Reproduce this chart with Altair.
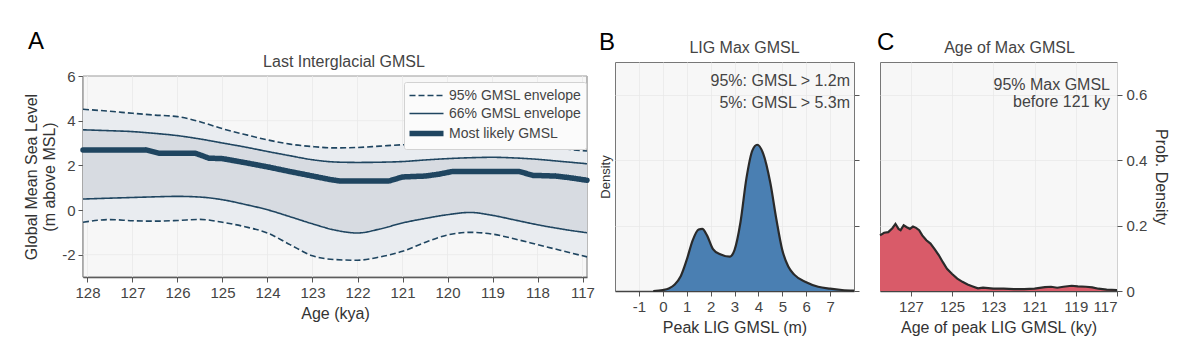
import altair as alt
import pandas as pd

FONT = "Liberation Sans"

# ---------------- Panel A data ----------------
age_env = [128.1, 127.5, 127.0, 126.5, 126.0, 125.5, 125.0, 124.5, 124.0, 123.5, 123.0, 122.5,
           122.0, 121.5, 121.0, 120.5, 120.0, 119.5, 119.0, 118.5, 118.0, 117.5, 116.9]
upper95 = [4.51, 4.42, 4.33, 4.25, 4.18, 3.95, 3.64, 3.38, 3.14, 2.95, 2.84, 2.78,
           2.80, 2.86, 2.92, 2.94, 2.96, 2.99, 2.98, 2.93, 2.84, 2.75, 2.64]
upper66 = [3.59, 3.55, 3.51, 3.43, 3.33, 3.18, 3.00, 2.82, 2.62, 2.43, 2.25, 2.15,
           2.13, 2.14, 2.17, 2.24, 2.30, 2.34, 2.36, 2.33, 2.27, 2.18, 2.07]
lower66 = [0.49, 0.53, 0.56, 0.59, 0.61, 0.58, 0.46, 0.25, 0.01, -0.30, -0.62, -0.90,
           -1.03, -0.85, -0.58, -0.38, -0.21, -0.11, -0.24, -0.45, -0.66, -0.84, -1.02]
lower95 = [-0.55, -0.43, -0.48, -0.50, -0.47, -0.42, -0.55, -0.75, -1.03, -1.55, -2.05, -2.22,
           -2.25, -2.10, -1.85, -1.45, -1.12, -1.00, -1.08, -1.30, -1.55, -1.80, -2.10]
age_ml = [128.1, 126.7, 126.4, 125.6, 125.3, 125.0, 124.5, 124.0, 123.5, 123.0, 122.6, 122.4,
          121.3, 121.0, 120.5, 120.2, 119.9, 118.4, 118.1, 117.6, 117.3, 116.9]
most_likely = [2.69, 2.69, 2.54, 2.54, 2.32, 2.30, 2.12, 1.93, 1.72, 1.52, 1.36, 1.30,
               1.30, 1.48, 1.52, 1.60, 1.72, 1.72, 1.55, 1.52, 1.45, 1.33]
series_labels = ["95% GMSL envelope", "66% GMSL envelope", "Most likely GMSL"]
a_xdomain = [116.9, 128.1]
a_ydomain = [-3, 6]
a_xticks = [128, 127, 126, 125, 124, 123, 122, 121, 120, 119, 118, 117]
a_yticks = [-2, 0, 2, 4, 6]

# ---------------- Panel B data ----------------
gmsl_x = [-0.4, 0.0, 0.25, 0.5, 0.75, 1.0, 1.25, 1.5, 1.65, 1.85, 2.1, 2.4, 2.8, 3.0, 3.25,
          3.5, 3.75, 3.95, 4.2, 4.5, 4.75, 5.0, 5.25, 5.5, 6.0, 6.5, 7.0, 7.5, 8.0]
gmsl_density = [0.0, 0.003, 0.008, 0.02, 0.045, 0.095, 0.155, 0.188, 0.19, 0.17, 0.128, 0.112,
                0.105, 0.125, 0.21, 0.345, 0.43, 0.447, 0.42, 0.33, 0.22, 0.125, 0.075, 0.05,
                0.027, 0.013, 0.007, 0.003, 0.001]
b_xticks = [-1, 0, 1, 2, 3, 4, 5, 6, 7]
b_notes = ["95%: GMSL > 1.2m", "5%: GMSL > 5.3m"]

# ---------------- Panel C data ----------------
peak_age = [128.5, 128.3, 128.1, 127.9, 127.75, 127.6, 127.5, 127.35, 127.2, 127.05, 126.9,
            126.75, 126.6, 126.45, 126.25, 126.05, 125.85, 125.65, 125.45, 125.25, 125.0,
            124.75, 124.5, 124.25, 124.0, 123.75, 123.5, 123.25, 123.0, 122.5, 122.0, 121.5,
            121.0, 120.5, 120.2, 119.9, 119.6, 119.2, 118.9, 118.5, 118.2, 117.9, 117.5, 117.0]
age_density = [0.17, 0.178, 0.18, 0.192, 0.205, 0.19, 0.186, 0.201, 0.195, 0.19, 0.197,
               0.193, 0.186, 0.17, 0.155, 0.145, 0.128, 0.11, 0.088, 0.068, 0.052,
               0.038, 0.028, 0.02, 0.014, 0.008, 0.01, 0.009, 0.007, 0.007, 0.006, 0.006,
               0.007, 0.012, 0.013, 0.01, 0.013, 0.016, 0.014, 0.013, 0.011, 0.007, 0.004, 0.003]
c_xticks = [127, 125, 123, 121, 119, 117]
density_ticks = [0, 0.2, 0.4, 0.6]
c_notes = ["95% Max GMSL", "before 121 ky"]

panel_titles = ["Last Interglacial GMSL", "LIG Max GMSL", "Age of Max GMSL"]
panel_letters = ["A", "B", "C"]

NAVY = "#1f4560"
BLUE = "#4a7fb2"
RED = "#d95b69"
OUTLINE = "#2a2a2a"
GRID = "#e9e9e9"
PANEL_BG = "#f7f7f7"
FRAME = "#777"
HYPHEN_LABEL = "datum.value < 0 ? '-' + abs(datum.value) : '' + datum.value"

one = pd.DataFrame({"t": [0]})


def label_text(txt, x, y, size=16, color="#444", align="right"):
    return alt.Chart(one).mark_text(text=txt, fontSize=size, font=FONT, color=color,
                                    align=align, baseline="alphabetic").encode(
        x=alt.value(x), y=alt.value(y))


# ---------------- build tables ----------------
env_df = pd.DataFrame({"age": age_env, "u95": upper95, "l95": lower95,
                       "u66": upper66, "l66": lower66})
rows = []
for i, a in enumerate(age_env):
    rows.append({"age": a, "v": upper95[i], "code": 0, "lid": "u95"})
    rows.append({"age": a, "v": lower95[i], "code": 0, "lid": "l95"})
    rows.append({"age": a, "v": upper66[i], "code": 1, "lid": "u66"})
    rows.append({"age": a, "v": lower66[i], "code": 1, "lid": "l66"})
env_lines = pd.DataFrame(rows)
ml_df = pd.DataFrame({"age": age_ml, "v": most_likely, "code": 2, "lid": "ml"})
frame_df = pd.DataFrame({"x1": [a_xdomain[1]], "x2": [a_xdomain[0]],
                         "y1": [a_ydomain[0]], "y2": [a_ydomain[1]]})
vgrid_df = pd.DataFrame({"x": a_xticks, "y1": a_ydomain[0], "y2": a_ydomain[1]})
hgrid_df = pd.DataFrame({"y": a_yticks, "x1": a_xdomain[1], "x2": a_xdomain[0]})

# A is drawn 14 px lower than B and C inside a 215 px tall cell
WA, HA, TOP_A = 504, 201, 14
xA_scale = alt.Scale(domain=a_xdomain, reverse=True, nice=False, zero=False)
yA_scale = alt.Scale(domain=a_ydomain, nice=False, zero=False, range=[HA + TOP_A, TOP_A])
xA_axis = alt.Axis(values=a_xticks, title="Age (kya)", format="d", domain=True, grid=False)
xA = alt.X("age:Q", scale=xA_scale, axis=xA_axis)
yA_axis = alt.Axis(values=a_yticks, title=["Global Mean Sea Level", "(m above MSL)"],
                   titleLineHeight=18, domain=True, titlePadding=4, grid=False,
                   labelExpr=HYPHEN_LABEL)

frameA = alt.Chart(frame_df).mark_rect(fill=PANEL_BG, stroke=FRAME, strokeWidth=1).encode(
    x=alt.X("x1:Q", scale=xA_scale, axis=xA_axis), x2="x2:Q",
    y=alt.Y("y1:Q", scale=yA_scale, axis=yA_axis), y2="y2:Q")
vgridA = alt.Chart(vgrid_df).mark_rule(color=GRID, strokeWidth=0.8).encode(
    x=alt.X("x:Q", scale=xA_scale), y=alt.Y("y1:Q", scale=yA_scale), y2="y2:Q")
hgridA = alt.Chart(hgrid_df).mark_rule(color=GRID, strokeWidth=0.8).encode(
    y=alt.Y("y:Q", scale=yA_scale), x=alt.X("x1:Q", scale=xA_scale), x2="x2:Q")

outer = alt.Chart(env_df).mark_area(color="#e9ecf0", opacity=1, interpolate="monotone").encode(
    x=xA, y=alt.Y("l95:Q", scale=yA_scale, axis=yA_axis), y2="u95:Q")
inner = alt.Chart(env_df).mark_area(color="#d7dbe1", opacity=1, interpolate="monotone").encode(
    x=xA, y=alt.Y("l66:Q", scale=yA_scale, axis=yA_axis), y2="u66:Q")

label_js = "['" + "','".join(series_labels) + "'][datum.index]"
leg = alt.Legend(
    title=None, orient="none", legendX=321, legendY=6 + TOP_A, symbolType="M-2,0H2",
    symbolSize=289, symbolOffset=7, labelOffset=11, labelFontSize=14, labelColor="#444",
    fillColor="#fbfbfb", strokeColor="#d2d2d2",
    padding=4, rowPadding=1, cornerRadius=2, labelFont=FONT, labelExpr=label_js)
thr = [0.5, 1.5]
line_enc = dict(
    x=xA,
    y=alt.Y("v:Q", scale=yA_scale, axis=yA_axis),
    detail="lid:N",
    color=alt.Color("code:Q", scale=alt.Scale(type="threshold", domain=thr,
                                              range=[NAVY, NAVY, NAVY]), legend=leg),
    strokeDash=alt.StrokeDash("code:Q", scale=alt.Scale(type="threshold", domain=thr,
                                                        range=[[6, 3], [1, 0], [1, 0]]),
                              legend=leg),
    strokeWidth=alt.StrokeWidth("code:Q", scale=alt.Scale(type="threshold", domain=thr,
                                                          range=[1.6, 1.6, 5.5]), legend=leg),
)
env_line_layer = alt.Chart(env_lines).mark_line(interpolate="monotone").encode(**line_enc)
ml_layer = alt.Chart(ml_df).mark_line(interpolate="linear", strokeCap="round",
                                      strokeJoin="round").encode(**line_enc)

chartA = alt.layer(
    frameA, vgridA, hgridA, outer, inner, env_line_layer, ml_layer,
    label_text(panel_letters[0], -55, -27 + TOP_A, size=24, color="black", align="left"),
    label_text(panel_titles[0], WA / 2 + 9, -9 + TOP_A, align="center"),
).properties(width=WA, height=HA + TOP_A,
             view=alt.ViewBackground(fill="white", strokeOpacity=0))

# ---------------- Panel B ----------------
WB, HB = 239, 229
dfB = pd.DataFrame({"g": gmsl_x, "d": gmsl_density})
xB = alt.X("g:Q", scale=alt.Scale(domain=[-2, 8], nice=False),
           axis=alt.Axis(values=b_xticks, title="Peak LIG GMSL (m)", labelExpr=HYPHEN_LABEL))
dscale = alt.Scale(domain=[0, 0.7], nice=False)
b_area = alt.Chart(dfB).mark_area(color=BLUE, opacity=1, interpolate="monotone",
                                  line={"color": OUTLINE, "strokeWidth": 2.2}).encode(
    x=xB,
    y=alt.Y("d:Q", scale=dscale,
            axis=alt.Axis(orient="left", labels=False, ticks=False, domain=False,
                          values=density_ticks, title="Density", titleFontSize=13,
                          titlePadding=3)))
b_right = alt.Chart(dfB).mark_line(opacity=0).encode(
    x=xB,
    y=alt.Y("d:Q", scale=dscale,
            axis=alt.Axis(orient="right", labels=False, ticks=True, domain=False, grid=False,
                          values=density_ticks, title=None)))
spacerB = alt.Chart(one).mark_text(text="|", fontSize=10, opacity=0, align="right").encode(
    x=alt.value(WB + 17), y=alt.value(100))
chartB = alt.layer(
    b_area, b_right,
    label_text(b_notes[0], WB - 4, 24),
    label_text(b_notes[1], WB - 4, 46),
    label_text(panel_letters[1], -16, -12, size=24, color="black", align="left"),
    label_text(panel_titles[1], WB / 2 + 10, -9, align="center"),
    spacerB,
).resolve_scale(y="independent").properties(width=WB, height=HB)

# ---------------- Panel C ----------------
WC, HC = 237, 229
dfC = pd.DataFrame({"a": peak_age, "d": age_density})
c_area = alt.Chart(dfC).mark_area(color=RED, opacity=1, interpolate="linear",
                                  line={"color": OUTLINE, "strokeWidth": 2.2}).encode(
    x=alt.X("a:Q", scale=alt.Scale(domain=[117, 128.5], reverse=True, nice=False, zero=False),
            axis=alt.Axis(values=c_xticks, title="Age of peak LIG GMSL (ky)", format="d")),
    y=alt.Y("d:Q", scale=dscale,
            axis=alt.Axis(orient="right", values=density_ticks, title="Prob. Density",
                          labelExpr="datum.value == 0 ? '0' : format(datum.value, '.1f')",
                          labelPadding=4, titlePadding=6, domain=False)))
chartC = alt.layer(
    c_area,
    label_text(c_notes[0], WC - 7, 28),
    label_text(c_notes[1], WC - 7, 45),
    label_text(panel_letters[2], -3, -12, size=24, color="black", align="left"),
    label_text(panel_titles[2], WC / 2 + 11, -9, align="center"),
).properties(width=WC, height=HC)

chart = alt.hconcat(chartA, chartB, chartC, spacing=3).properties(
    padding={"left": 23, "top": 30, "right": 5, "bottom": 5},
    background="white",
).configure_view(
    fill=PANEL_BG, stroke=FRAME, strokeWidth=1
).configure_axis(
    labelFont=FONT, titleFont=FONT, labelFontSize=15, titleFontSize=16,
    labelColor="#444", titleColor="#333", titleFontWeight="normal",
    tickColor="#555", tickSize=5, domainColor="#444", domainWidth=1.4,
    gridColor=GRID, gridWidth=0.8, labelPadding=3, titlePadding=5,
)

chart.save("out.html", embed_options={"renderer": "svg", "actions": False})
